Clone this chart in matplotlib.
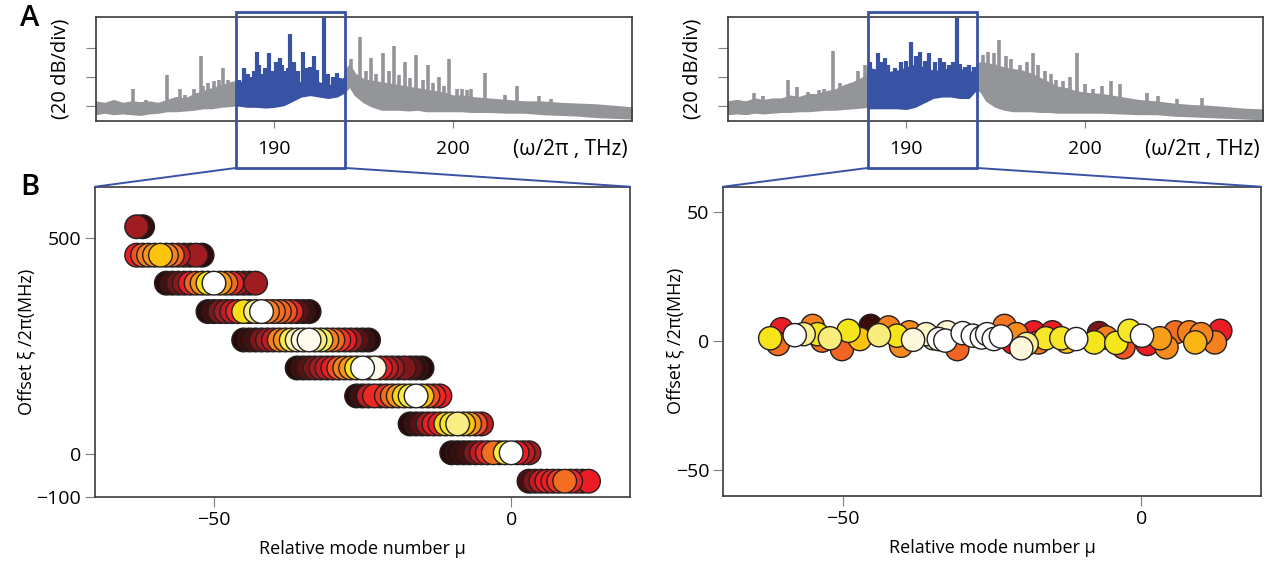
import numpy as np
import matplotlib
matplotlib.use("Agg")
import matplotlib.pyplot as plt
from matplotlib.colors import LinearSegmentedColormap
from matplotlib.patches import Rectangle, ConnectionPatch
import matplotlib.transforms as mtransforms

plt.rcParams['font.family'] = ['Open Sans', 'DejaVu Sans']

# ---- spectrum data (frequency in THz, level in dB) ----
# left spectrum, grey noise band: part below the zoom window, part above it
gray_f_left_a = [180, 180.5, 181, 181.5, 182, 182.5, 183, 183.5, 184, 184.5, 185, 185.5,
                 186, 186.5, 187, 187.5, 187.9]
gray_lo_left_a = [-5, -4, -5, -4.5, -5, -5.5, -4.5, -4, -3, -3, -2.5, -2,
                  -1, -1, 0, 0.5, 1]
gray_hi_left_a = [3, 2, 4, 2, 3, 2.5, 3, 2, 4, 6, 5, 8,
                  10, 12, 14, 16, 17]
gray_f_left_b = [193.95, 194.2, 194.5, 195, 195.5, 196, 196.5, 197, 197.5, 198, 198.5, 199,
                 199.5, 200, 200.5, 201, 202, 203, 204, 205, 206, 207, 208, 209, 210]
gray_lo_left_b = [10, 14, 8, 3, 0, -2, -2, -2, -2.5, -2, -3, -3,
                  -3, -3, -3, -3.5, -3.5, -4, -4, -5, -5.5, -6, -7, -7.5, -8]
gray_hi_left_b = [24, 28, 22, 18, 17, 16, 15, 14, 13, 12, 11, 10,
                  9, 7, 7, 6, 5, 4, 3, 3, 2, 1.5, 1, 0, -1]
gray_pk_f_left = [182.1, 182.8, 184.0, 184.7, 185.0, 185.5, 185.9, 186.0, 186.3, 186.6, 186.9,
                  187.1, 187.4, 194.3, 194.8, 195.1, 195.4, 195.7, 196.1, 196.4, 196.7,
                  197.0, 197.3, 197.6, 197.9, 198.3, 198.6, 198.9, 199.2, 199.5, 199.8,
                  200.2, 200.5, 200.8, 201.0, 201.8, 202.9, 203.6, 204.8, 205.5]
gray_pk_db_left = [12, 4, 21, 12, 8, 12, 34, 14, 16, 17, 18,
                   26, 18, 32, 47, 24, 33, 22, 36, 24, 41,
                   21, 30, 19, 35, 18, 28, 16, 20, 14, 32,
                   12, 12, 11, 12, 23, 8, 14, 7, 5]
# left spectrum, blue (zoomed) section
blue_f_left = [187.85, 188.5, 189, 189.5, 190, 190.5, 191, 191.5, 192, 192.5, 193, 193.5, 193.95]
blue_lo_left = [1, 0, 0, -0.5, 0, 1, 4, 7, 8, 7, 6, 7, 10]
blue_hi_left = [16, 17, 18, 17, 18, 18, 17, 16, 17, 16, 14, 15, 20]
blue_pk_f_left = [188.0, 188.3, 188.5, 188.7, 188.85, 189.0, 189.15, 189.3, 189.5, 189.7, 189.9,
                  190.1, 190.3, 190.45, 190.6, 190.75, 190.9, 191.1, 191.3, 191.6, 191.8,
                  192.0, 192.2, 192.4, 192.75, 193.0, 193.3, 193.5, 193.7]
blue_pk_db_left = [18, 26, 22, 20, 24, 37, 28, 22, 26, 36, 24,
                   30, 33, 28, 24, 26, 49, 30, 24, 37, 26,
                   27, 34, 25, 60, 22, 20, 23, 19]

# right spectrum
gray_f_right_a = [180, 180.5, 181, 181.5, 182, 182.5, 183, 183.5, 184, 184.5, 185, 185.5,
                  186, 186.5, 187, 187.5, 187.9]
gray_lo_right_a = [-5, -4.5, -5, -4, -4.5, -4, -3.5, -3.5, -3, -3, -2.5, -2,
                   -2, -1.5, -1, -0.5, 0]
gray_hi_right_a = [3, 4, 3, 5, 4, 5, 5, 7, 6, 8, 8, 10,
                   11, 14, 16, 19, 22]
gray_f_right_b = [193.95, 194.2, 194.5, 195, 195.5, 196, 196.5, 197, 197.5, 198, 198.5, 199,
                  199.5, 200, 201, 202, 203, 204, 205, 206, 207, 208, 209, 210]
gray_lo_right_b = [12, 10, 4, 0, -2, -3, -3, -3, -3.5, -3.5, -4, -4,
                   -4, -4, -4, -4.5, -5, -5, -6, -6.5, -7, -7.5, -8, -8.5]
gray_hi_right_b = [28, 30, 29, 28, 26, 25, 24, 22, 19, 16, 13, 12,
                   10, 9, 8, 6, 4, 3, 1.5, 0.5, 0, -1, -2, -2.5]
gray_pk_f_right = [180.6, 181.5, 182.0, 183.4, 183.9, 184.5, 185.1, 185.4, 185.9, 186.3,
                   186.9, 187.3, 187.7, 194.3, 194.6, 194.9, 195.2, 195.6, 195.9, 196.4,
                   196.8, 197.1, 197.4, 197.8, 198.1, 198.4, 198.8, 199.2, 199.6, 200.0,
                   200.5, 201.0, 201.5, 202.0, 203.5, 204.1, 205.2, 206.6]
gray_pk_db_right = [4.5, 9, 7, 18, 13, 9.5, 11, 11.5, 37.5, 16,
                    16, 24, 28, 35, 37, 36, 45, 34, 32, 28,
                    30, 36, 28, 24, 22, 18, 17, 20, 36, 15,
                    12, 14, 17, 15, 9, 7, 5, 5.7]
blue_f_right = [187.85, 188.5, 189, 189.5, 190, 190.5, 191, 191.5, 192, 192.5, 193, 193.5, 193.95]
blue_lo_right = [-1, -1, -1, -1, -1.5, 0, 3, 6, 7, 7, 6, 6, 12]
blue_hi_right = [26, 24, 23, 24, 26, 28, 26, 24, 24, 26, 25, 24, 22]
blue_pk_f_right = [188.0, 188.4, 188.6, 188.8, 189.0, 189.4, 189.7, 190.0, 190.3, 190.55,
                   190.8, 191.05, 191.3, 191.6, 191.9, 192.1, 192.4, 192.6, 192.85, 193.0,
                   193.3, 193.55, 193.8]
blue_pk_db_right = [30, 36, 30, 33, 28, 26, 30, 31, 43.6, 34,
                    37, 31, 36, 30, 33, 30, 28, 30, 60, 29,
                    27, 28, 27]

zoom_f = [187.85, 193.95]

# ---- offset data, left (stair steps): one row per offset, one value per mode ----
left_row_offset = [527, 461, 396, 330, 264, 199, 134, 69, 2, -64]
left_row_start = [-63, -63, -58, -51, -45, -36, -26, -17, -10, 3]
left_row_power = [
    [0.25, 0.08],
    [0.36, 0.45, 0.55, 0.6, 0.68, 0.55, 0.5, 0.3, 0.2, 0.15, 0.25, 0.06],
    [0.05, 0.12, 0.18, 0.22, 0.36, 0.48, 0.6, 0.75, 1.0, 0.62, 0.5, 0.38, 0.25, 0.22, 0.15, 0.25],
    [0.05, 0.1, 0.2, 0.25, 0.3, 0.38, 0.74, 0.7, 0.85, 1.0, 0.55, 0.5, 0.48, 0.45, 0.38, 0.15, 0.1, 0.05],
    [0.04, 0.08, 0.12, 0.2, 0.25, 0.3, 0.55, 0.6, 0.8, 0.9, 0.95, 0.97, 0.85, 0.82, 0.55, 0.5,
     0.4, 0.36, 0.25, 0.15, 0.1, 0.05],
    [0.04, 0.1, 0.15, 0.2, 0.25, 0.3, 0.36, 0.45, 0.55, 0.6, 0.75, 1.0, 0.92, 0.95, 0.36, 0.3,
     0.25, 0.2, 0.2, 0.15, 0.08, 0.04],
    [0.05, 0.1, 0.3, 0.38, 0.36, 0.4, 0.5, 0.6, 0.72, 0.8, 1.0, 0.68, 0.45, 0.38, 0.36],
    [0.04, 0.1, 0.15, 0.25, 0.36, 0.36, 0.72, 0.78, 0.85, 0.68, 0.6, 0.45, 0.3],
    [0.04, 0.06, 0.08, 0.12, 0.2, 0.3, 0.38, 0.5, 0.45, 0.8, 1.0, 0.36, 0.3, 0.25],
    [0.12, 0.2, 0.3, 0.36, 0.36, 0.4, 0.5, 0.38, 0.36, 0.3, 0.36],
]

# ---- offset data, right (flat) ----
mu_right = [-62.1, -60.2, -60.8, -58, -56.5, -55, -54.2, -53.4, -52.1, -50.1,
            -49, -47.1, -45.3, -42.3, -43.9, -40.9, -40.2, -38.8, -38.2, -36,
            -34.8, -33.9, -32.5, -32.8, -30.8, -29.9, -28.2, -26.7, -25.8, -24.7,
            -23.5, -22.9, -20.9, -21.5, -20.1, -19.2, -18, -17.2, -14.9, -16,
            -13.4, -12.5, -10.9, -7.1, -7.9, -5.9, -3, -4.2, -2, 0.1,
            1, 3.1, 4.2, 5.7, 8, 9, 10, 12.3, 13.2]
off_right = [1.2, 4.7, -1, 2.4, 2.8, 6, 2.8, 0.3, 1.2, -3,
             4.1, 0.9, 6, 5.4, 2.4, 2.2, -1.7, 3.5, 0.6, 2.8,
             1.2, 0.9, 3.5, 0.3, -3, 3.2, 2.2, 1.5, 2.8, 0.9,
             1.9, 6, 2.8, -0.4, -2.7, -1, 3.5, -0.4, 3.5, 1.2,
             1.2, -0.1, 0.9, 3.2, -0.4, 1.5, -2.3, -0.6, 4.1, 2.2,
             -1, 1.2, -2.3, 3.5, 3.5, -0.4, 2.8, -0.4, 4.1]
pow_right = [0.75, 0.36, 0.5, 1.0, 0.86, 0.55, 0.75, 0.5, 0.84, 0.48,
             0.76, 0.68, 0.08, 0.55, 0.84, 0.75, 0.58, 0.58, 0.94, 0.92,
             0.9, 1.0, 0.93, 1.0, 0.48, 1.0, 1.0, 1.0, 1.0, 1.0,
             1.0, 0.52, 0.58, 0.36, 0.94, 0.86, 0.36, 0.52, 0.36, 0.77,
             0.77, 0.68, 1.0, 0.2, 0.76, 0.55, 0.45, 0.76, 0.77, 1.0,
             0.36, 0.62, 0.58, 0.5, 0.55, 0.66, 0.56, 0.55, 0.36]

# ---- styling ----
GRAY = '#939598'
BLUE = '#3953a4'
SPINE = '#3a3a3a'
TICKC = '#7f7f7f'
cmap = LinearSegmentedColormap.from_list('pw', [
    (0.0, '#1a0707'), (0.12, '#4a0e0e'), (0.25, '#9e1c20'), (0.36, '#ec1c24'),
    (0.48, '#f26522'), (0.6, '#f7941d'), (0.68, '#fcc20f'), (0.76, '#f5e61a'),
    (0.86, '#f9ef8f'), (0.94, '#fef9dc'), (1.0, '#ffffff')])

fig = plt.figure(figsize=(12.76, 5.67), dpi=100)
ax_tl = fig.add_axes([0.0750, 0.7866, 0.4201, 0.1840])
ax_tr = fig.add_axes([0.5703, 0.7866, 0.4195, 0.1840])
ax_bl = fig.add_axes([0.0745, 0.1240, 0.4193, 0.5467])
ax_br = fig.add_axes([0.5666, 0.1252, 0.4216, 0.5455])


def draw_spectrum(ax, gfa, gloa, ghia, gfb, glob, ghib, gpf, gpd, bf, blo, bhi, bpf, bpd):
    for f, lo, hi in ((gfa, gloa, ghia), (gfb, glob, ghib)):
        ax.fill_between(f, lo, hi, color=GRAY, lw=1.5, edgecolor=GRAY)
    gf = gfa + gfb
    ghi = ghia + ghib
    base = np.interp(gpf, gf, ghi)
    ax.vlines(gpf, base - 3, gpd, color=GRAY, lw=2.6)
    ax.fill_between(bf, blo, bhi, color=BLUE, lw=1.5, edgecolor=BLUE)
    bbase = np.interp(bpf, bf, bhi)
    ax.vlines(bpf, bbase - 3, bpd, color=BLUE, lw=3.0)
    ax.set_xlim(180, 210)
    ax.set_ylim(-10, 61)
    ax.set_xticks([190, 200])
    ax.set_yticks([0, 20, 40])
    ax.set_yticklabels([])
    ax.tick_params(axis='x', length=5, color=TICKC, pad=9, labelsize=14)
    ax.tick_params(axis='y', length=7, color=TICKC)
    ax.set_ylabel('(20 dB/div)', fontsize=14.5, labelpad=8)
    ax.text(0.993, -0.27, '(ω/2π , THz)', transform=ax.transAxes, ha='right', va='center', fontsize=15)
    for s in ax.spines.values():
        s.set_color(SPINE)
        s.set_linewidth(1.2)


draw_spectrum(ax_tl, gray_f_left_a, gray_lo_left_a, gray_hi_left_a,
              gray_f_left_b, gray_lo_left_b, gray_hi_left_b, gray_pk_f_left, gray_pk_db_left,
              blue_f_left, blue_lo_left, blue_hi_left, blue_pk_f_left, blue_pk_db_left)
draw_spectrum(ax_tr, gray_f_right_a, gray_lo_right_a, gray_hi_right_a,
              gray_f_right_b, gray_lo_right_b, gray_hi_right_b, gray_pk_f_right, gray_pk_db_right,
              blue_f_right, blue_lo_right, blue_hi_right, blue_pk_f_right, blue_pk_db_right)

# left offsets
mu_l, off_l, pw_l = [], [], []
for off, start, pw in zip(left_row_offset, left_row_start, left_row_power):
    for i, p in enumerate(pw):
        mu_l.append(start + i)
        off_l.append(off)
        pw_l.append(p)
mu_l, off_l, pw_l = np.array(mu_l), np.array(off_l), np.array(pw_l)
order = np.argsort(pw_l, kind='stable')
ax_bl.scatter(mu_l[order], off_l[order], c=pw_l[order], cmap=cmap, vmin=0, vmax=1,
              s=290, edgecolors='#231f20', linewidths=1.0, zorder=3)
ax_bl.set_xlim(-70, 20)
ax_bl.set_ylim(-100, 620)
ax_bl.set_yticks([-100, 0, 500])

mu_r, off_r, pw_r = np.array(mu_right), np.array(off_right), np.array(pow_right)
order = np.argsort(pw_r, kind='stable')
ax_br.scatter(mu_r[order], off_r[order], c=pw_r[order], cmap=cmap, vmin=0, vmax=1,
              s=280, edgecolors='#231f20', linewidths=1.0, zorder=3)
ax_br.set_xlim(-70, 20)
ax_br.set_ylim(-60, 60)
ax_br.set_yticks([-50, 0, 50])

for ax, lx in ((ax_bl, -0.112), (ax_br, -0.072)):
    ax.set_xticks([-50, 0])
    ax.tick_params(length=7, color=TICKC, labelsize=14, pad=3)
    ax.set_xlabel('Relative mode number μ', fontsize=13, labelpad=8)
    ax.set_ylabel('Offset ξ /2π(MHz)', fontsize=13)
    ax.yaxis.set_label_coords(lx, 0.5)
    for s in ax.spines.values():
        s.set_color(SPINE)
        s.set_linewidth(1.2)

# zoom boxes and connectors
for top, bottom in ((ax_tl, ax_bl), (ax_tr, ax_br)):
    tr = mtransforms.blended_transform_factory(top.transData, top.transAxes)
    top.add_patch(Rectangle((zoom_f[0], -0.45), zoom_f[1] - zoom_f[0], 1.495, transform=tr,
                            fill=False, edgecolor=BLUE, lw=2.0, clip_on=False, zorder=5))
    for fx, cx in ((zoom_f[0], 0), (zoom_f[1], 1)):
        con = ConnectionPatch(xyA=(fx, -0.45), coordsA=tr, xyB=(cx, 1), coordsB=bottom.transAxes,
                              color=BLUE, lw=1.4)
        fig.add_artist(con)

fig.text(0.016, 0.967, 'A', fontsize=21, fontweight='semibold', va='center')
fig.text(0.016, 0.670, 'B', fontsize=21, fontweight='semibold', va='center')

plt.savefig("out.png", dpi=100)
